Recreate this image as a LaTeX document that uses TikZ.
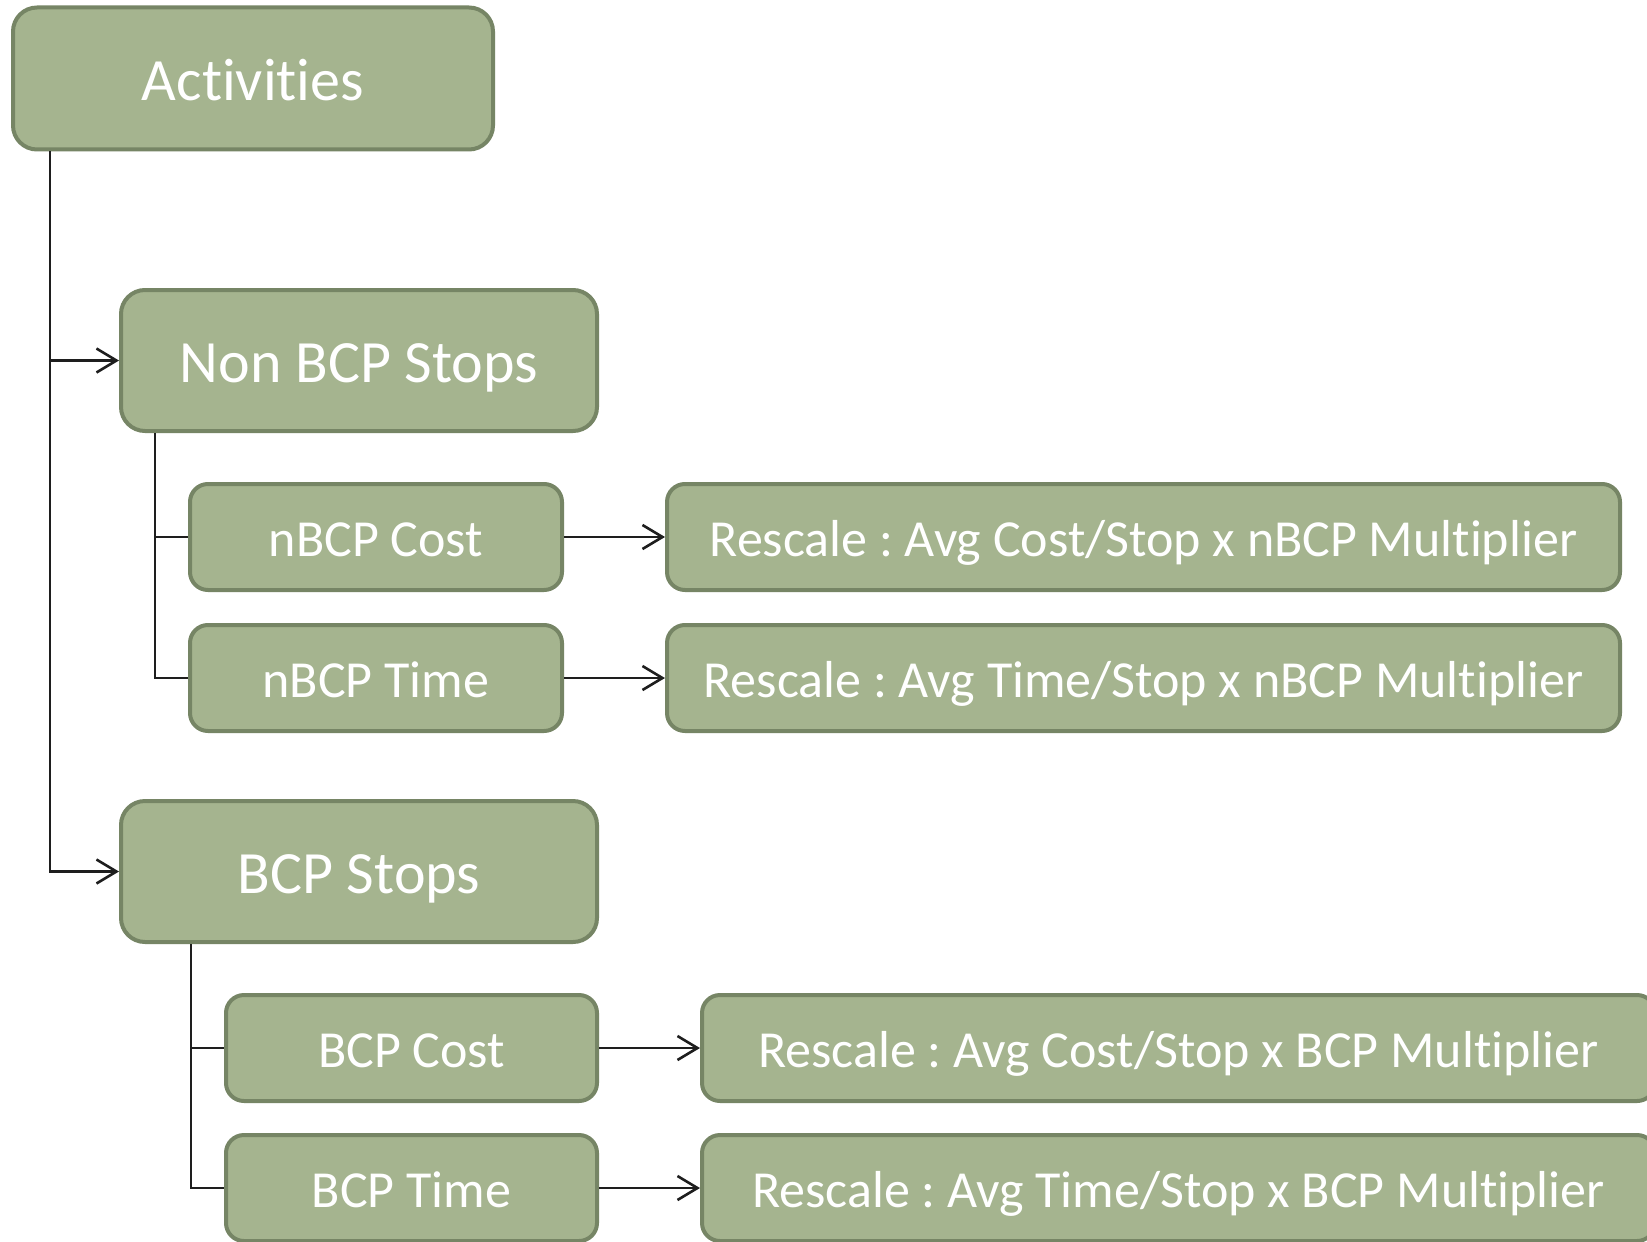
\documentclass[tikz,border=0pt]{standalone}
\usepackage{fontspec}
\setmainfont{Carlito}[RawFeature=-liga]
\usetikzlibrary{arrows.meta}
\definecolor{boxfill}{RGB}{165,180,143}
\definecolor{boxline}{RGB}{118,133,101}
\definecolor{linek}{RGB}{30,30,30}
\begin{document}
\frenchspacing
\begin{tikzpicture}[x=0.5pt,y=-0.5pt,
  box/.style={draw=boxline, line width=2pt, fill=boxfill, text=white, inner sep=0pt, align=center, text depth=0pt},
  bigbox/.style={box, rounded corners=12pt, minimum width=238pt, minimum height=70.5pt, text height=22pt, font=\fontsize{30}{36}\selectfont},
  smallbox/.style={box, rounded corners=9pt, minimum height=53pt, text height=19.4pt, font=\fontsize{26}{31}\selectfont},
  conn/.style={draw=linek, line width=1.3pt},
  arr/.style={conn, -{Straight Barb[length=10pt,width=12pt,line width=1.3pt]}}]
\useasboundingbox (0,0) rectangle (1647,1241);
\fill[white] (0,0) rectangle (1647,1241);
\clip (0,0) rectangle (1647,1241);

\node[bigbox, minimum width=240pt, minimum height=71pt] (act) at (253,78.5) {Activities};
\node[bigbox] (nbs) at (359,360.5) {Non BCP Stops};
\node[smallbox, minimum width=186pt] (nbc) at (376,537) {nBCP Cost};
\node[smallbox, minimum width=186pt] (nbt) at (376,678) {nBCP Time};
\node[smallbox, minimum width=476.5pt] (rnc) at (1143.5,537) {Rescale : Avg Cost/Stop x nBCP Multiplier};
\node[smallbox, minimum width=476.5pt] (rnt) at (1143.5,678) {Rescale : Avg Time/Stop x nBCP Multiplier};
\node[bigbox] (bs) at (359,871.5) {BCP Stops};
\node[smallbox, minimum width=185.5pt] (bc) at (411.5,1048) {BCP Cost};
\node[smallbox, minimum width=185.5pt] (bt) at (411.5,1188) {BCP Time};
\node[smallbox, minimum width=476.5pt] (rbc) at (1178.5,1048) {Rescale : Avg Cost/Stop x BCP Multiplier};
\node[smallbox, minimum width=476.5pt] (rbt) at (1178.5,1188) {Rescale : Avg Time/Stop x BCP Multiplier};

\draw[arr] ([xshift=19.5pt]act.south west) |- (nbs.west);
\draw[arr] ([xshift=19.5pt]act.south west) |- (bs.west);
\draw[conn] ([xshift=18pt]nbs.south west) |- (nbc.west);
\draw[conn] ([xshift=18pt]nbs.south west) |- (nbt.west);
\draw[conn] ([xshift=36pt]bs.south west) |- (bc.west);
\draw[conn] ([xshift=36pt]bs.south west) |- (bt.west);
\draw[arr] (nbc.east) -- (rnc.west);
\draw[arr] (nbt.east) -- (rnt.west);
\draw[arr] (bc.east) -- (rbc.west);
\draw[arr] (bt.east) -- (rbt.west);
\end{tikzpicture}
\end{document}
